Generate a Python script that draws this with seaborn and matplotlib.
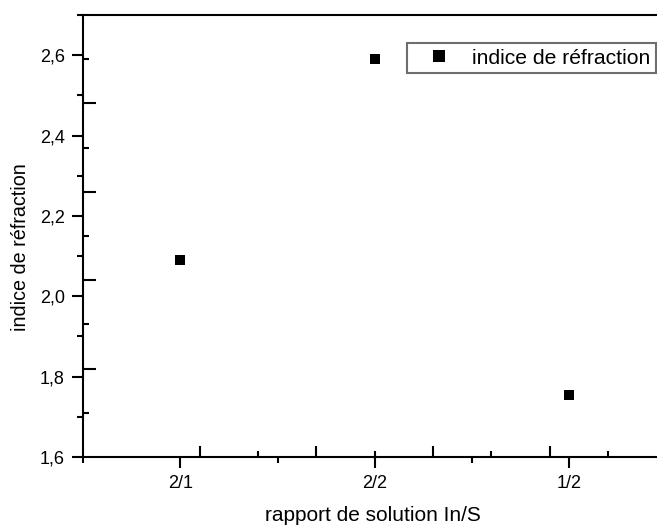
import numpy as np
import pandas as pd
import matplotlib
matplotlib.use("Agg")
import matplotlib.pyplot as plt
import seaborn as sns
from matplotlib.ticker import FixedLocator, MultipleLocator

# Data
categories = ["2/1", "2/2", "1/2"]
indice = [2.09, 2.59, 1.755]
y_ticks = [1.6, 1.8, 2.0, 2.2, 2.4, 2.6]
y_tick_labels = ["1,6", "1,8", "2,0", "2,2", "2,4", "2,6"]
series_name = "indice de réfraction"
x_title = "rapport de solution In/S"
y_title = "indice de réfraction"

sns.set_theme(style="ticks")
plt.rcParams["font.family"] = ["Liberation Sans", "DejaVu Sans"]
plt.rcParams["axes.edgecolor"] = "black"
plt.rcParams["xtick.color"] = "black"
plt.rcParams["ytick.color"] = "black"
plt.rcParams["text.color"] = "black"
plt.rcParams["axes.labelcolor"] = "black"

df = pd.DataFrame({"rapport": categories, "indice": indice, "serie": series_name})

W, H = 657, 525
fig = plt.figure(figsize=(W / 100, H / 100), dpi=100)
ax = fig.add_axes([83 / W, 68 / H, 583.5 / W, 442 / H])

sns.scatterplot(data=df, x="rapport", y="indice", hue="serie",
                palette=["black"], marker="s", s=55, linewidth=0,
                ax=ax, zorder=5, clip_on=False)

ax.set_xlim(-0.5, 2.5)
ax.set_ylim(1.6, 2.7)

for side in ["left", "bottom", "top", "right"]:
    ax.spines[side].set_linewidth(1.5)
    ax.spines[side].set_color("black")

# Outward ticks carrying the labels
ax.yaxis.set_major_locator(FixedLocator(y_ticks))
ax.set_yticklabels(y_tick_labels)
ax.yaxis.set_minor_locator(MultipleLocator(0.1))
ax.xaxis.set_minor_locator(MultipleLocator(0.5))
ax.tick_params(which="major", direction="out", length=8, width=1.5,
               labelsize=13, pad=5)
ax.tick_params(which="minor", direction="out", length=4, width=1.5)

# Inward ticks of the mirrored scales
secx = ax.secondary_xaxis("bottom")
secx.set_xticks(np.arange(0.1, 2.5, 0.6))
secx.set_xticks(np.arange(0.4, 2.5, 0.6), minor=True)
secx.tick_params(which="major", direction="in", length=8, width=1.5,
                 labelbottom=False)
secx.tick_params(which="minor", direction="in", length=4, width=1.5)
secx.spines["bottom"].set_visible(False)

secy = ax.secondary_yaxis("left")
secy.set_yticks(np.arange(1.82, 2.69, 0.22))
secy.set_yticks(np.arange(1.71, 2.69, 0.22), minor=True)
secy.tick_params(which="major", direction="in", length=9, width=1.5,
                 labelleft=False)
secy.tick_params(which="minor", direction="in", length=4, width=1.5)
secy.spines["left"].set_visible(False)

ax.set_xlabel(x_title, fontsize=15)
ax.xaxis.set_label_coords((373 - 83) / 583.5, -(521 - 457) / 442,
                          transform=ax.transAxes)
ax.xaxis.label.set_va("baseline")
ax.set_ylabel(y_title, fontsize=14.2)
ax.yaxis.set_label_coords(-53 / 583.5, (457 - 247) / 442,
                          transform=ax.transAxes)

handles, labels = ax.get_legend_handles_labels()
leg = ax.legend(handles, labels, loc="upper left",
                bbox_to_anchor=(407 / W, 1 - 43 / H),
                bbox_transform=fig.transFigure, borderaxespad=0,
                fontsize=15.2, frameon=True, fancybox=False, shadow=False,
                borderpad=0.27, handlelength=2.45, handletextpad=0.35,
                markerscale=1.2)
leg.get_frame().set_edgecolor("#6e6e6e")
leg.get_frame().set_linewidth(1.5)
leg.get_frame().set_facecolor("white")
leg.get_frame().set_alpha(1)

fig.savefig("out.png", dpi=100)
